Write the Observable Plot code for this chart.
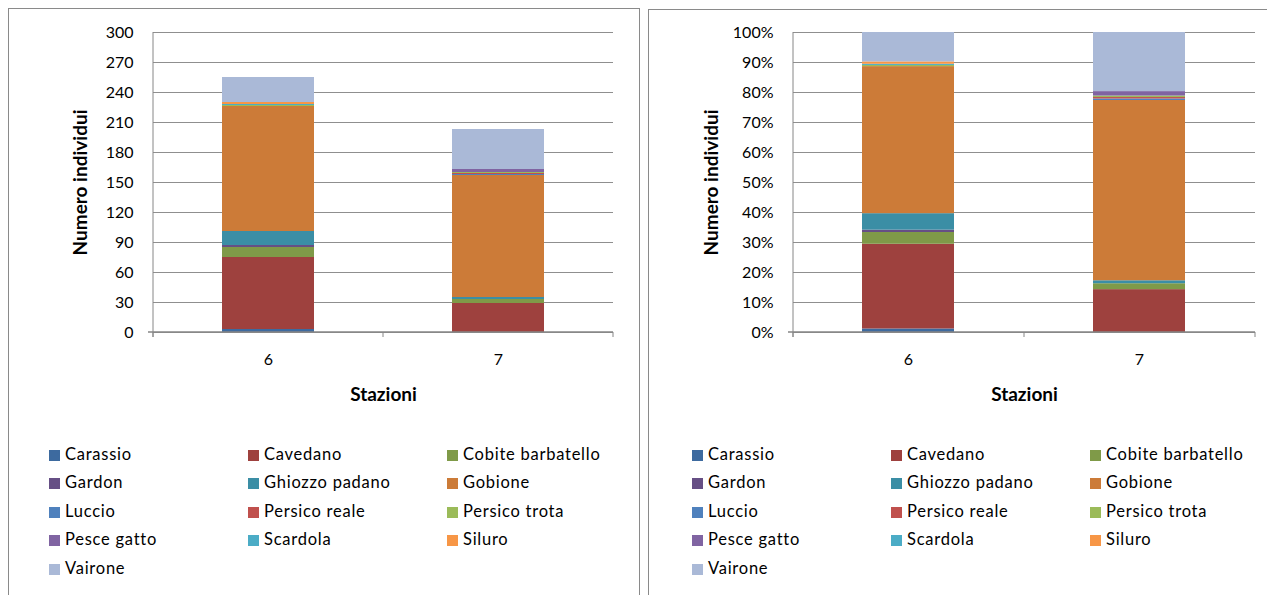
<!DOCTYPE html>
<html>
<head>
<meta charset="utf-8">
<script src="https://cdn.jsdelivr.net/npm/d3@7"></script>
<script src="https://cdn.jsdelivr.net/npm/@observablehq/plot@0.6"></script>
<style>
  html, body { margin: 0; padding: 0; background: #fff; }
  body { font-family: Lato, "Open Sans", "Liberation Sans", sans-serif; color: #000; }
  #page { position: relative; width: 1267px; height: 595px; overflow: hidden; }
  .panel { position: absolute; border: 1px solid #8a8a8a; background: #fff; }
  .panel svg { position: absolute; left: 0; top: 0; }
  .legend { position: absolute; }
  .item { position: absolute; height: 20px; line-height: 20px; font-size: 16.5px; letter-spacing: 0.75px; white-space: nowrap; }
  .swatch { display: inline-block; width: 11px; height: 11px; margin-right: 5px; vertical-align: -1px; }
</style>
</head>
<body>
<div id="page">
  <div class="panel" id="counts" style="left:8px; top:8px; width:630px; height:600px;"></div>
  <div class="panel" id="shares" style="left:648px; top:9px; width:700px; height:600px;"></div>
</div>
<script>
// Sampling stations and fish species (stacking order, bottom to top)
const stations = ["6", "7"];
const species = [
  "Carassio", "Cavedano", "Cobite barbatello", "Gardon", "Ghiozzo padano", "Gobione",
  "Luccio", "Persico reale", "Persico trota", "Pesce gatto", "Scardola", "Siluro", "Vairone"
];
// Number of individuals caught per species
const station6 = [3, 72, 10, 2, 14, 125, 0, 0, 1, 0, 1, 2, 25];
const station7 = [0, 29, 4, 0, 2, 122, 1, 1, 1, 3, 0, 0, 40];
const speciesColors = [
  "#3d6a9f", "#9e413e", "#7f9a48", "#664f85", "#3b8ea5", "#cc7b38",
  "#4f81bd", "#c0504d", "#9bbb59", "#8064a2", "#4bacc6", "#f79646", "#aab9d7"
];
const countTicks = [0, 30, 60, 90, 120, 150, 180, 210, 240, 270, 300];
const shareTicks = [0, 0.1, 0.2, 0.3, 0.4, 0.5, 0.6, 0.7, 0.8, 0.9, 1];

const catches = species.flatMap((s, i) => [
  {station: "6", species: s, n: station6[i]},
  {station: "7", species: s, n: station7[i]}
]);

// Axis lines: vertical value axis, baseline, and category separators
function axisLines(index, scales, values, dimensions) {
  const {width, height, marginLeft, marginRight, marginTop, marginBottom} = dimensions;
  const left = marginLeft, right = width - marginRight, base = height - marginBottom;
  const g = d3.create("svg:g").attr("stroke", "#868686").attr("fill", "none");
  g.append("line").attr("x1", left).attr("x2", left).attr("y1", marginTop).attr("y2", base + 5);
  g.append("line").attr("x1", left - 5).attr("x2", right).attr("y1", base).attr("y2", base).attr("stroke-width", 1.5);
  const n = stations.length;
  for (let i = 0; i <= n; ++i) {
    const xe = left + (right - left) * i / n;
    g.append("line").attr("x1", xe).attr("x2", xe).attr("y1", base).attr("y2", base + 5);
  }
  return g.node();
}

function chart({width, marginRight, marginTop, marginBottom, ticks, domain, offset, format, titleOffset}) {
  return Plot.plot({
    width, height: 400,
    marginLeft: 144, marginRight, marginTop, marginBottom,
    style: {fontFamily: "Lato, 'Open Sans', sans-serif", fontSize: "16px", color: "#000", background: "transparent", overflow: "visible"},
    x: {domain: stations, paddingInner: 0.6, paddingOuter: 0.3, axis: null},
    y: {domain, axis: null},
    color: {domain: species, range: speciesColors},
    marks: [
      Plot.gridY(ticks, {stroke: "#8f8f8f", strokeOpacity: 1, strokeWidth: 1}),
      Plot.barY(catches, Plot.stackY({order: null, offset}, {x: "station", y: "n", fill: "species"})),
      axisLines,
      Plot.axisY(ticks, {tickSize: 0, tickPadding: 20, tickFormat: format, label: null, fill: "#000"}),
      Plot.axisY([], {label: "Numero individui", labelAnchor: "center", labelOffset: titleOffset, labelArrow: "none", fontWeight: "bold", fontSize: 19, fill: "#000"}),
      Plot.axisX({tickSize: 0, tickPadding: 21, label: null, fill: "#000"}),
      Plot.axisX([], {label: "Stazioni", labelAnchor: "center", labelOffset: 68, fontWeight: "bold", fontSize: 19, fill: "#000"})
    ]
  });
}

function legend(dx, dy) {
  const box = document.createElement("div");
  box.className = "legend";
  box.style.left = dx + "px";
  box.style.top = dy + "px";
  species.forEach((s, i) => {
    const item = document.createElement("div");
    item.className = "item";
    item.style.left = (i % 3) * 199 + "px";
    item.style.top = Math.floor(i / 3) * 28.4 + "px";
    const sw = document.createElement("span");
    sw.className = "swatch";
    sw.style.background = speciesColors[i];
    item.appendChild(sw);
    item.appendChild(document.createTextNode(s));
    box.appendChild(item);
  });
  return box;
}

const left = document.getElementById("counts");
left.appendChild(chart({width: 630, marginRight: 26, marginTop: 23, marginBottom: 77, ticks: countTicks, domain: [0, 300], offset: null, format: d => String(d), titleOffset: 80}));
left.appendChild(legend(40, 435));

const right = document.getElementById("shares");
right.appendChild(chart({width: 618, marginRight: 12, marginTop: 22, marginBottom: 78, ticks: shareTicks, domain: [0, 1], offset: "normalize", format: d3.format(".0%"), titleOffset: 89}));
right.appendChild(legend(43, 434));
</script>
</body>
</html>
